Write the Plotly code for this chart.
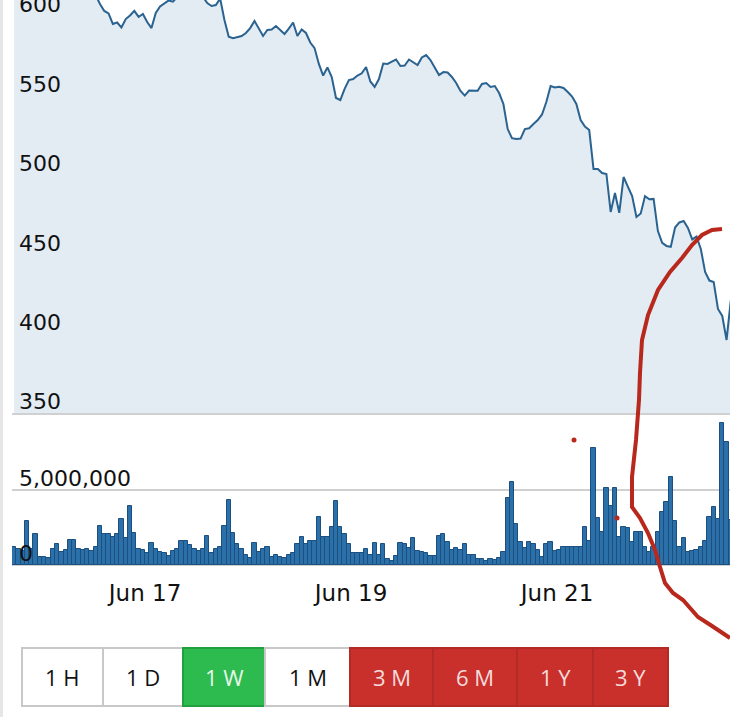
import pandas as pd
import plotly.graph_objects as go

# ---------------- data ----------------
start_time = "2022-06-15 17:30"
price = [618, 621, 616, 619, 623, 620, 617, 614, 618, 621, 619, 616, 620, 622, 618, 615, 617, 619, 616, 613,
         607.6, 603.2, 601.6, 595.0, 595.9, 592.8, 598.1, 600.3, 603.2, 599.4, 601.3, 596.2, 592.4, 601.9, 606.0, 608.2, 609.8, 609.0,
         612, 614, 616, 615, 613, 614,
         612, 608.2, 606.3, 606.9, 611,
         597.5, 587.0, 586.0, 586.8, 587.4, 589.3, 592.4, 596.9, 591.8, 587.4, 591.2, 591.5, 593.7, 591.5, 588.7, 592.1, 595.9, 587.4, 591.5, 589.3,
         583.3, 579.8, 569.8, 562.5, 567.6, 561.6, 548.4, 547.1, 554.1, 559.7, 560.3, 562.5, 563.9, 567.9, 558.8, 555.3, 560.3, 570.1, 569.8, 571.2,
         572.6, 568.5, 568.8, 572.6, 571.0, 569.1, 573.9, 575.4, 572.3, 567.9, 562.8, 564.7, 564.4, 561.6, 557.8, 552.8, 549.9, 553.1, 552.8, 552.9,
         557.2, 557.8, 555.3, 555.9, 551.5, 544.6, 528.8, 523.1, 522.5, 522.8, 528.8, 529.3, 532.0, 534.5, 538.0, 545.8, 555.9, 555.0, 555.5, 554.7,
         552.1, 549.3, 544.6, 534.5, 530.4, 528.2, 503.7, 503.7, 501.1, 500.5, 476.6, 488.5, 476.0, 498.6, 492.6, 486.6, 473.4, 475.6, 486.6, 484.6,
         484.8, 464.6, 457.1, 455.2, 454.7, 466.8, 470.0, 470.9, 466.5, 459.3, 461.1, 453.3, 438.8, 433.4, 432.5, 415.5, 411.1, 396.0, 421.2]
volume_millions = [1.22, 1.04, 0.95, 2.96, 1.1, 2.04, 0.56, 0.56, 0.45, 1.1,
                   1.4, 0.9, 1.0, 1.67, 1.67, 1.1, 1.0, 1.1, 0.95, 1.22,
                   2.6, 2.07, 2.07, 1.9, 2.07, 3.1, 1.78, 3.93, 2.15, 1.1,
                   1.0, 0.78, 1.5, 1.1, 0.9, 0.78, 0.6, 0.95, 1.04, 1.6,
                   1.6, 1.33, 1.1, 0.95, 1.1, 1.93, 0.78, 1.04, 1.22, 2.6,
                   4.33, 2.15, 1.4, 1.1, 0.67,
                   0.44, 1.5, 0.89, 1.04, 1.22, 0.51, 0.67, 0.51, 0.44, 0.67,
                   0.82, 1.4, 1.89, 1.4, 1.62, 1.62, 3.22, 1.89, 1.89, 2.56,
                   4.29, 2.56, 2.04, 1.4, 0.82, 0.82, 0.82, 1.09, 0.67, 1.5,
                   0.67, 1.4, 0.38, 0.29, 0.6, 1.49, 1.4, 1.11, 1.78, 0.96,
                   0.89, 0.78, 0.6, 0.6, 1.93, 2.04, 1.56, 1.0, 1.11, 1.0,
                   1.4, 0.67, 0.67, 0.38, 0.38, 0.29,
                   0.4, 0.33, 0.49, 0.89, 4.44, 5.51, 2.71, 1.51, 1.11, 1.51,
                   1.38, 1.0, 0.56, 1.38, 1.51, 0.93, 1.0, 1.22, 1.22, 1.22,
                   1.22, 1.22, 2.56, 1.6, 7.78, 3.11, 2.18, 5.11, 3.96, 5.11,
                   1.89, 2.56, 2.44, 1.51, 2.18, 2.18, 1.22, 0.89, 1.22, 2.18,
                   3.51, 4.18, 5.89, 2.93, 1.22, 1.78, 0.89, 0.93, 1.0, 1.22,
                   1.6, 3.2, 3.9, 3.1, 9.5, 8.2, 3.0]
tick_dates = ["2022-06-17", "2022-06-19", "2022-06-21"]
tick_labels = ["Jun 17", "Jun 19", "Jun 21"]
price_ticks = [350, 400, 450, 500, 550, 600]
price_floor = 350
volume_ticks = [0, 5000000]
button_labels = ["1 H", "1 D", "1 W", "1 M", "3 M", "6 M", "1 Y", "3 Y"]

times = pd.date_range(start_time, periods=len(price), freq="h")
volume = [v * 1e6 for v in volume_millions]

# ---------------- geometry (viewport pixels -> paper) ----------------
W, H = 730, 717
OFF = 30                      # part of the figure scrolled above the viewport
PAD = 8                       # extra room below each panel so inside tick labels are kept
HF = H + OFF
ML, MR, MT = 12, 0, 0
BOTTOM = 565 + PAD            # viewport y of plot-area bottom
MB = H - BOTTOM
PW, PH = W - ML - MR, HF - MT - MB


def px(x):
    return (x - ML) / PW


def py(y):
    return (BOTTOM - y) / PH


px_per_unit = 79.4 / 50
price_bottom = price_floor - PAD / px_per_unit
price_top = price_floor + (413 + OFF) / px_per_unit
vol_per_px = 5e6 / 75
vol_bottom = -PAD * vol_per_px
vol_top = (565 - 413) * vol_per_px

fig = go.Figure()
# floor of the area fill
fig.add_trace(go.Scatter(x=times, y=[price_floor] * len(price), mode="lines",
                         line=dict(width=0, color="rgba(0,0,0,0)"), xaxis="x", yaxis="y", hoverinfo="skip"))
fig.add_trace(go.Scatter(x=times, y=price, mode="lines", fill="tonexty",
                         fillcolor="#e3ebf3", line=dict(color="#2a6290", width=2),
                         xaxis="x", yaxis="y", hoverinfo="skip"))
fig.add_trace(go.Bar(x=times, y=volume, marker=dict(color="#2c70aa", line=dict(color="#1b4f80", width=1)),
                     xaxis="x2", yaxis="y2", hoverinfo="skip"))

xr = ["2022-06-15 17:00", "2022-06-22 16:18"]
tickfont = dict(family="DejaVu Sans", size=22, color="#111111")

fig.update_layout(
    width=W, height=HF, margin=dict(l=ML, r=MR, t=MT, b=MB),
    paper_bgcolor="white", plot_bgcolor="white", showlegend=False, bargap=0,
    xaxis=dict(domain=[0, 1], anchor="y", range=xr, showticklabels=False, showgrid=False,
               zeroline=False, showline=False, ticks=""),
    yaxis=dict(domain=[py(413 + PAD), 1], anchor="x", range=[price_bottom, price_top], tickvals=price_ticks,
               ticklabelposition="inside top", showgrid=False, zeroline=False, showline=False,
               tickfont=tickfont, ticklabelstandoff=4, ticklabelshift=4),
    xaxis2=dict(domain=[0, 1], anchor="y2", range=xr, matches="x", tickvals=tick_dates,
                ticktext=tick_labels, showgrid=False, zeroline=False, showline=False, ticks="",
                tickfont=dict(family="DejaVu Sans", size=23, color="#111111"), ticklabelstandoff=12 - PAD),
    yaxis2=dict(domain=[0, py(413)], anchor="x2", range=[vol_bottom, vol_top], tickvals=volume_ticks,
                tickformat=",", ticklabelposition="inside top", showgrid=True, gridcolor="#d0d0d0",
                gridwidth=2, zeroline=False, showline=False, tickfont=tickfont,
                ticklabelstandoff=4, ticklabelshift=4),
)

shapes = []
# separator between price and volume panels
shapes.append(dict(type="line", xref="paper", yref="paper", x0=0, x1=1, y0=py(414), y1=py(414),
                   line=dict(color="#d0d0d0", width=2), layer="above"))
# left page border strip
shapes.append(dict(type="rect", xref="paper", yref="paper", x0=px(0), x1=px(3), y0=py(-OFF), y1=py(H),
                   fillcolor="#e6e6e6", line=dict(width=0), layer="above"))

# range buttons
edges = [22, 103, 183, 265, 350, 433, 517, 593, 668]
fills = ["white", "white", "#2dbb4f", "white", "#c9302c", "#c9302c", "#c9302c", "#c9302c"]
borders = ["#c8c8c8", "#c8c8c8", "#22a03f", "#c8c8c8", "#b42a26", "#b42a26", "#b42a26", "#b42a26"]
textcol = ["#111111", "#111111", "#e6f7e9", "#111111", "#f6dcdb", "#f6dcdb", "#f6dcdb", "#f6dcdb"]
by0, by1 = 648, 706
annotations = []
for i, lab in enumerate(button_labels):
    shapes.append(dict(type="rect", xref="paper", yref="paper", x0=px(edges[i]), x1=px(edges[i + 1]),
                       y0=py(by1), y1=py(by0), fillcolor=fills[i],
                       line=dict(color=borders[i], width=2), layer="above"))
    annotations.append(dict(xref="paper", yref="paper", x=px((edges[i] + edges[i + 1]) / 2),
                            y=py((by0 + by1) / 2), text=lab, showarrow=False,
                            font=dict(family="Open Sans", size=22, color=textcol[i]),
                            xanchor="center", yanchor="middle"))

# hand-drawn red mark on the screenshot
scribble_px = [(722, 229), (712, 230), (702, 235), (692, 245), (682, 258), (670, 272), (658, 290),
               (648, 315), (642, 340), (640, 373), (639, 400), (636, 440), (632, 477), (632, 507),
               (640, 518), (648, 533), (655, 550), (660, 567), (665, 583), (673, 593), (683, 600),
               (698, 617), (712, 626), (730, 638)]
path = "M " + " L ".join(f"{px(x):.5f},{py(y):.5f}" for x, y in scribble_px)
shapes.append(dict(type="path", xref="paper", yref="paper", path=path,
                   line=dict(color="#b8281c", width=4), layer="above"))
for (dx, dy) in [(574, 440), (617, 518)]:
    shapes.append(dict(type="circle", xref="paper", yref="paper", x0=px(dx - 2.5), x1=px(dx + 2.5),
                       y0=py(dy + 2.5), y1=py(dy - 2.5), fillcolor="#b8281c",
                       line=dict(width=0), layer="above"))

fig.update_layout(shapes=shapes, annotations=annotations)
fig.write_html("out.html",
               post_script="document.body.style.margin='0';document.body.style.marginTop='-%dpx';"
                           "document.body.style.overflow='hidden';document.documentElement.style.overflow='hidden';" % OFF)
